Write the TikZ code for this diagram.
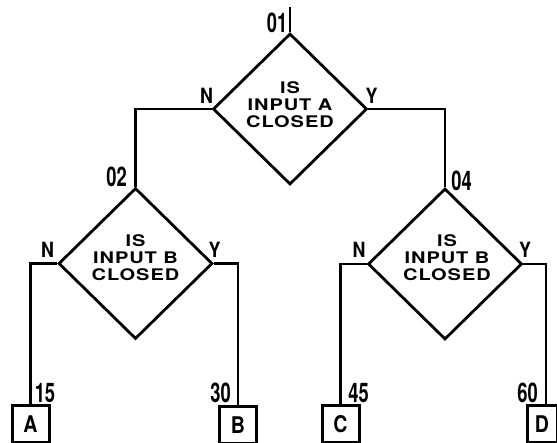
\documentclass[tikz,border=0pt]{standalone}
\usepackage{fontspec}
\setmainfont{TeX Gyre Heros}
\newfontfamily\widefont{TeX Gyre Heros}[FakeStretch=1.25,LetterSpace=6]
\newfontfamily\numfont{TeX Gyre Heros}[FakeStretch=0.68]
\newfontfamily\nyfont{TeX Gyre Heros}[FakeStretch=0.85]
\usetikzlibrary{shapes.geometric}
\tikzset{
  dia/.style={shape=diamond, draw, line width=2.8pt, minimum width=154pt, minimum height=151pt, inner sep=0pt},
  qtext/.style={font=\widefont\bfseries\fontsize{16}{17}\selectfont, align=center, inner sep=0pt},
  num/.style={font=\numfont\bfseries\fontsize{27}{27}\selectfont, inner sep=0pt},
  yn/.style={font=\nyfont\bfseries\fontsize{21}{21}\selectfont, inner sep=0pt},
  outbox/.style={draw, line width=3pt, minimum width=37pt, minimum height=37pt, inner sep=0pt, font=\nyfont\bfseries\fontsize{23}{23}\selectfont},
  wire/.style={line width=2.8pt}
}
\begin{document}
\begin{tikzpicture}[x=1pt,y=-1pt]
\useasboundingbox (0,0) rectangle (557,443);
\clip (0,0) rectangle (557,443);
% diamonds
\node[dia] (d1) at (290,109) {};
\node[dia] (d2) at (135.5,263.5) {};
\node[dia] (d4) at (445,264) {};
\node[qtext] (t1) at (290,104.5) {IS\\INPUT A\\CLOSED};
\node[qtext] (t2) at (135.5,258) {IS\\INPUT B\\CLOSED};
\node[qtext] (t4) at (447,258) {IS\\INPUT B\\CLOSED};
% output boxes
\node[outbox] (A) at (30.5,424) {A};
\node[outbox] (B) at (238,425) {B};
\node[outbox] (C) at (340.5,424.5) {C};
\node[outbox, minimum width=30pt] (D) at (542,424.5) {D};
% connectors
\coordinate (s1) at (290,7);
\draw[wire] (s1) -- (d1.north);
\draw[wire] (d1.west) -| (d2.north);
\draw[wire] (d1.east) -| (d4.north);
\draw[wire] (d2.west) -| (A.north);
\draw[wire] (d2.east) -| (B.north);
\draw[wire] (d4.west) -| (C.north);
\coordinate (Dtop) at (546,406);
\draw[wire] (d4.east) -| (Dtop);
% number labels
\node[num] (n01) at (277,22.5) {01};
\node[num] (n02) at (116.5,176.5) {02};
\node[num] (n04) at (461.5,180.5) {04};
\node[num] (n15) at (45,393) {15};
\node[num] (n30) at (220.5,393) {30};
\node[num] (n45) at (358.5,393) {45};
\node[num] (n60) at (527.5,393) {60};
% N / Y labels
\node[yn] (N1) at (206.5,95.5) {N};
\node[yn] (Y1) at (371.5,95.5) {Y};
\node[yn] (N2) at (47.5,250) {N};
\node[yn] (Y2) at (214.5,250) {Y};
\node[yn] (N4) at (359,250) {N};
\node[yn] (Y4) at (525,250) {Y};
\end{tikzpicture}
\end{document}
